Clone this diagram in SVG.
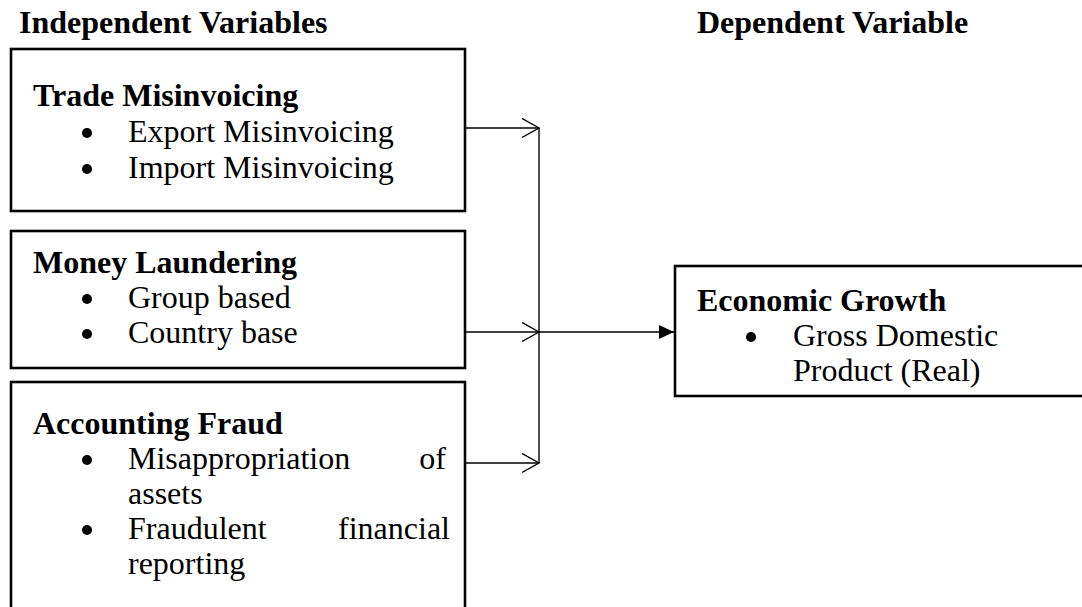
<svg xmlns="http://www.w3.org/2000/svg" width="1082" height="607" viewBox="0 0 1082 607">
<style>
text{font-family:"Liberation Serif","Times New Roman",serif;font-size:32px;fill:#000}
.b{font-weight:bold}
.box{fill:#fff;stroke:#000;stroke-width:2.6}
.dot{fill:#000}
.ln{stroke:#000;stroke-width:1.4;fill:none}
</style>
<defs>
<marker id="open" markerWidth="20" markerHeight="22" refX="17" refY="10" orient="auto" markerUnits="userSpaceOnUse">
<path d="M0,0.5 L17,10 L0,19.5" fill="none" stroke="#000" stroke-width="1.4"/>
</marker>
<marker id="fill" markerWidth="16" markerHeight="16" refX="15" refY="7" orient="auto" markerUnits="userSpaceOnUse">
<path d="M0,0 L15,7 L0,14 Z" fill="#000"/>
</marker>
</defs>
<g id="headers">
<text class="b" x="19" y="33">Independent Variables</text>
<text class="b" x="697" y="33">Dependent Variable</text>
</g>
<g id="trade">
<rect class="box" x="11" y="49" width="454" height="162"/>
<text class="b" x="33" y="106">Trade Misinvoicing</text>
<circle class="dot" cx="87" cy="133" r="5"/>
<text x="128" y="142">Export Misinvoicing</text>
<circle class="dot" cx="87" cy="169" r="5"/>
<text x="128" y="178">Import Misinvoicing</text>
</g>
<g id="money">
<rect class="box" x="11" y="231" width="454" height="137"/>
<text class="b" x="33" y="273">Money Laundering</text>
<circle class="dot" cx="87" cy="299" r="5"/>
<text x="128" y="308">Group based</text>
<circle class="dot" cx="87" cy="334" r="5"/>
<text x="128" y="343">Country base</text>
</g>
<g id="fraud">
<rect class="box" x="11" y="382" width="454" height="240"/>
<text class="b" x="33" y="434">Accounting Fraud</text>
<circle class="dot" cx="87" cy="460" r="5"/>
<text x="128" y="469">Misappropriation</text>
<text x="446" y="469" text-anchor="end">of</text>
<text x="128" y="504">assets</text>
<circle class="dot" cx="87" cy="530" r="5"/>
<text x="128" y="539">Fraudulent</text>
<text x="450" y="539" text-anchor="end">financial</text>
<text x="128" y="574">reporting</text>
</g>
<g id="growth">
<rect class="box" x="675" y="266" width="420" height="130"/>
<text class="b" x="697" y="311">Economic Growth</text>
<circle class="dot" cx="751" cy="337" r="5"/>
<text x="793" y="346">Gross Domestic</text>
<text x="793" y="381">Product (Real)</text>
</g>
<g id="connectors">
<line class="ln" x1="465" y1="128" x2="539" y2="128" marker-end="url(#open)"/>
<line class="ln" x1="465" y1="332" x2="539" y2="332" marker-end="url(#open)"/>
<line class="ln" x1="465" y1="463" x2="539" y2="463" marker-end="url(#open)"/>
<line class="ln" x1="539" y1="128" x2="539" y2="463"/>
<line class="ln" x1="539" y1="332" x2="674" y2="332" marker-end="url(#fill)"/>
</g>
</svg>
